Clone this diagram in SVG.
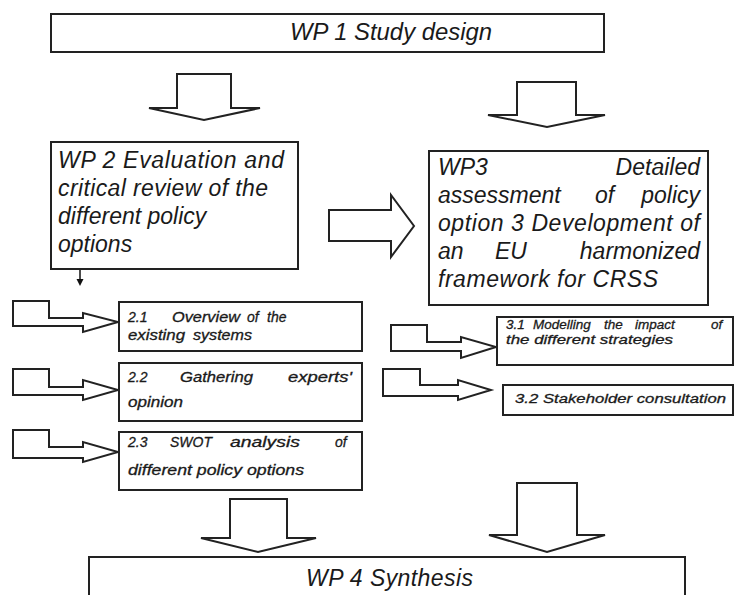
<svg xmlns="http://www.w3.org/2000/svg" width="736" height="595" viewBox="0 0 736 595">
<style>
.box{fill:#fff;stroke:#222;stroke-width:2}
.arr{fill:#fff;stroke:#222;stroke-width:2;stroke-linejoin:miter}
.big{font-family:"Liberation Sans",Arial,sans-serif;font-style:italic;font-size:23px;fill:#1a1a1a}
.sm{font-family:"Liberation Sans",Arial,sans-serif;font-style:italic;font-size:14px;fill:#1a1a1a;stroke:#1a1a1a;stroke-width:0.3}
.s3{font-size:13.5px}
</style>
<rect width="736" height="595" fill="#fff"/>

<g id="connectors">
<polygon class="arr" points="177,74 231,74 231,108 260,108 204,120 149,108 177,108"/>
<polygon class="arr" points="517,82 576,82 576,115 605,115 547,127 488,115 517,115"/>
<polygon class="arr" points="329,210 391,210 391,195 414,226 391,257 391,241 329,241"/>
<line x1="80" y1="268" x2="80" y2="280" stroke="#111" stroke-width="1.5"/>
<polygon points="76.5,279 83.5,279 80,286" fill="#111"/>
<polygon class="arr" points="13,301 49,301 49,318 83,318 83,313 118,322 83,332 83,326 13,326"/>
<polygon class="arr" points="13,369 49,369 49,387 83,387 83,380 118,390 83,400 83,395 13,395"/>
<polygon class="arr" points="13,430 49,430 49,447 83,447 83,442 118,452 83,462 83,458 13,458"/>
<polygon class="arr" points="391,325 427,325 427,342 461,342 461,337 496,347 461,358 461,351 391,351"/>
<polygon class="arr" points="383,369 420,369 420,385 458,385 458,380 491,390 458,400 458,396 383,396"/>
<polygon class="arr" points="230,499 287,499 287,538 316,538 258,552 201,538 230,538"/>
<polygon class="arr" points="517,483 577,483 577,535 605,535 547,552 489,535 517,535"/>
</g>

<g id="wp1">
<rect class="box" x="51" y="14" width="553" height="38"/>
<text class="big" x="290" y="40" textLength="202" lengthAdjust="spacingAndGlyphs">WP 1 Study design</text>
</g>

<g id="wp2">
<rect class="box" x="51" y="142" width="247" height="127"/>
<text class="big" x="58" y="168" textLength="226">WP 2 Evaluation and</text>
<text class="big" x="58" y="196" textLength="210">critical review of the</text>
<text class="big" x="58" y="224">different policy</text>
<text class="big" x="58" y="252">options</text>
</g>

<g id="wp3">
<rect class="box" x="429" y="151" width="279" height="154"/>
<text class="big" x="438" y="175">WP3</text>
<text class="big" x="700" y="175" text-anchor="end">Detailed</text>
<text class="big" x="438" y="203">assessment</text>
<text class="big" x="595" y="203">of</text>
<text class="big" x="700" y="203" text-anchor="end">policy</text>
<text class="big" x="438" y="231" textLength="262">option 3 Development of</text>
<text class="big" x="438" y="259">an</text>
<text class="big" x="495" y="259">EU</text>
<text class="big" x="700" y="259" text-anchor="end">harmonized</text>
<text class="big" x="438" y="287" textLength="220">framework for CRSS</text>
</g>

<g id="t21">
<rect class="box" x="119" y="302" width="243" height="49"/>
<text class="sm" x="128" y="322">2.1</text>
<text class="sm" x="172" y="322" textLength="68" lengthAdjust="spacingAndGlyphs">Overview</text>
<text class="sm" x="247" y="322">of</text>
<text class="sm" x="267" y="322">the</text>
<text class="sm" x="128" y="340" textLength="57" lengthAdjust="spacingAndGlyphs">existing</text>
<text class="sm" x="193" y="340" textLength="59" lengthAdjust="spacingAndGlyphs">systems</text>
</g>

<g id="t22">
<rect class="box" x="119" y="363" width="243" height="58"/>
<text class="sm" x="128" y="382">2.2</text>
<text class="sm" x="180" y="382" textLength="73" lengthAdjust="spacingAndGlyphs">Gathering</text>
<text class="sm" x="288" y="382" textLength="64" lengthAdjust="spacingAndGlyphs">experts'</text>
<text class="sm" x="128" y="407" textLength="55" lengthAdjust="spacingAndGlyphs">opinion</text>
</g>

<g id="t23">
<rect class="box" x="119" y="432" width="243" height="58"/>
<text class="sm" x="128" y="447">2.3</text>
<text class="sm" x="170" y="447">SWOT</text>
<text class="sm" x="230" y="447" textLength="70" lengthAdjust="spacingAndGlyphs">analysis</text>
<text class="sm" x="335" y="447">of</text>
<text class="sm" x="128" y="475" textLength="176" lengthAdjust="spacingAndGlyphs">different policy options</text>
</g>

<g id="t31">
<rect class="box" x="497" y="317" width="236" height="48"/>
<text class="sm s3" x="506" y="329">3.1</text>
<text class="sm s3" x="533" y="329">Modelling</text>
<text class="sm s3" x="604" y="329">the</text>
<text class="sm s3" x="635" y="329">impact</text>
<text class="sm s3" x="711" y="329">of</text>
<text class="sm s3" x="506" y="344" textLength="167" lengthAdjust="spacingAndGlyphs">the different strategies</text>
</g>

<g id="t32">
<rect class="box" x="503" y="385" width="230" height="30"/>
<text class="sm s3" x="515" y="403" textLength="211" lengthAdjust="spacingAndGlyphs">3.2 Stakeholder consultation</text>
</g>

<g id="wp4">
<rect class="box" x="89" y="557" width="596" height="45"/>
<text class="big" x="306" y="586" textLength="167">WP 4 Synthesis</text>
</g>
</svg>
